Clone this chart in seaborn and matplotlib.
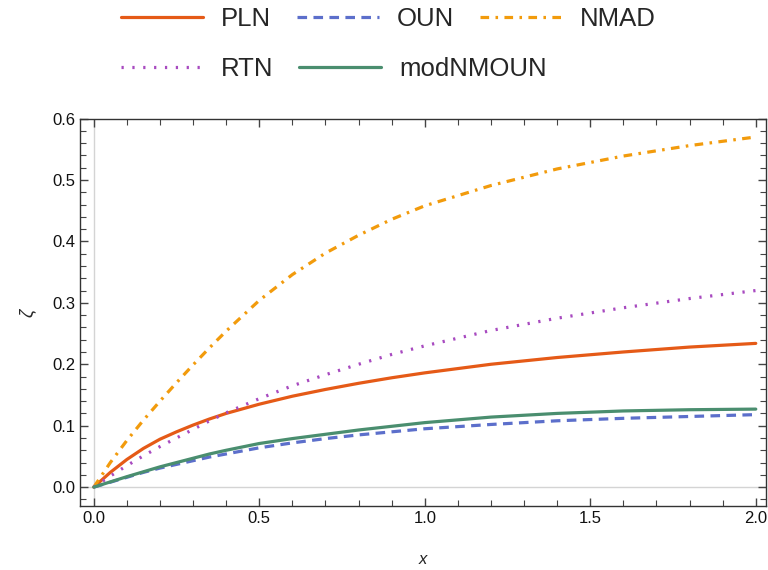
import numpy as np
import pandas as pd
import matplotlib
matplotlib.use("Agg")
import matplotlib.pyplot as plt
import seaborn as sns
from matplotlib.ticker import MultipleLocator, FormatStrFormatter

x = [0, 0.05, 0.1, 0.15, 0.2, 0.25, 0.3, 0.35, 0.4, 0.5, 0.6, 0.7, 0.8, 0.9, 1.0, 1.2, 1.4, 1.6, 1.8, 2.0]
pln = [0, 0.024, 0.045, 0.063, 0.078, 0.090, 0.101, 0.111, 0.120, 0.135, 0.148, 0.159, 0.169, 0.178, 0.186, 0.200, 0.211, 0.220, 0.228, 0.234]
oun = [0, 0.008, 0.016, 0.024, 0.031, 0.037, 0.043, 0.049, 0.054, 0.064, 0.072, 0.079, 0.085, 0.090, 0.095, 0.102, 0.108, 0.112, 0.115, 0.118]
nmad = [0, 0.040, 0.076, 0.109, 0.140, 0.170, 0.199, 0.227, 0.254, 0.304, 0.346, 0.381, 0.410, 0.436, 0.458, 0.491, 0.518, 0.539, 0.556, 0.570]
rtn = [0, 0.018, 0.035, 0.051, 0.066, 0.080, 0.094, 0.108, 0.121, 0.144, 0.165, 0.183, 0.200, 0.216, 0.230, 0.255, 0.275, 0.292, 0.307, 0.320]
modnmoun = [0, 0.0085, 0.017, 0.025, 0.033, 0.040, 0.047, 0.054, 0.060, 0.071, 0.079, 0.086, 0.093, 0.099, 0.105, 0.114, 0.120, 0.124, 0.126, 0.127]

names = ["PLN", "OUN", "NMAD", "RTN", "modNMOUN"]
series = [pln, oun, nmad, rtn, modnmoun]
colors = ["#E55A17", "#5C6FCB", "#F29B0C", "#A84AC0", "#4A8E6F"]
dashes = [None, (3, 2), (2.7, 2, 0.8, 2), (0.7, 2.7), None]

sns.set_style("white")
plt.rcParams['font.family'] = ['Liberation Sans', 'DejaVu Sans']

fig = plt.figure(figsize=(7.68, 5.70), dpi=100)
ax = fig.add_axes([0.104, 0.112, 0.893, 0.680])

ax.axhline(0, color="#d4d4d4", lw=1.0, zorder=0)
ax.axvline(0, color="#d4d4d4", lw=1.0, zorder=0)

handles = []
for name, ys, c, d in zip(names, series, colors, dashes):
    df = pd.DataFrame({"x": x, "y": ys})
    sns.lineplot(data=df, x="x", y="y", ax=ax, color=c, lw=2.3, label=name, legend=False)
    line = ax.get_lines()[-1]
    line.set_solid_joinstyle("round")
    if d is not None:
        line.set_dashes(d)
    handles.append(line)

ax.set_xlim(-0.042, 2.03)
ax.set_ylim(-0.031, 0.6)
ax.xaxis.set_major_locator(MultipleLocator(0.5))
ax.xaxis.set_minor_locator(MultipleLocator(0.1))
ax.yaxis.set_major_locator(MultipleLocator(0.1))
ax.yaxis.set_minor_locator(MultipleLocator(0.02))
ax.xaxis.set_major_formatter(FormatStrFormatter('%.1f'))
ax.yaxis.set_major_formatter(FormatStrFormatter('%.1f'))
ax.tick_params(which="both", direction="in", top=True, right=True, bottom=True, left=True,
               color="#444444", labelsize=12, labelcolor="#111111")
ax.tick_params(which="major", length=6, width=1)
ax.tick_params(which="minor", length=4, width=0.8)
for s in ax.spines.values():
    s.set_color("#333333")
    s.set_linewidth(1.0)

ax.set_xlabel("x", fontsize=12, style="italic", labelpad=19)
ax.set_ylabel("ζ", fontsize=13, style="italic", labelpad=12)

leg_kw = dict(loc="center left", frameon=False, fontsize=18.5, handlelength=3.2,
              handletextpad=0.69, columnspacing=1.0, borderpad=0, borderaxespad=0)
leg1 = fig.legend([handles[0], handles[1], handles[2]], ["PLN", "OUN", "NMAD"], ncol=3,
                  bbox_to_anchor=(121 / 768, 1 - 19 / 570), **leg_kw)
leg2 = fig.legend([handles[3], handles[4]], ["RTN", "modNMOUN"], ncol=2,
                  bbox_to_anchor=(121 / 768, 1 - 69 / 570), **leg_kw)

fig.savefig("out.png", dpi=100)
